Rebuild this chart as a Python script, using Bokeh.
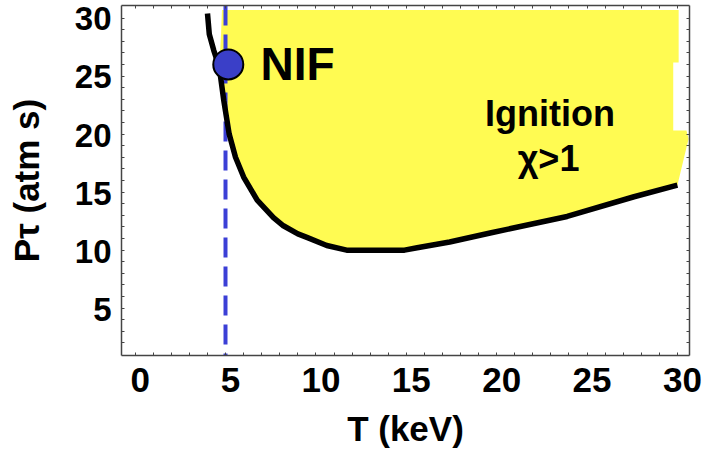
from bokeh.plotting import figure
from bokeh.models import Range1d, LinearAxis, FixedTicker
from bokeh.core.properties import value
from bokeh.embed import file_html
from bokeh.resources import INLINE

# Ignition threshold curve: temperature (keV) vs P*tau (atm s)
curve_T = [4.0, 4.1, 4.35, 4.65, 4.9, 5.2, 5.55, 6.0, 6.75, 7.65, 8.2, 9.0, 9.5,
           10.6, 11.7, 14.9, 15.6, 17.4, 19.7, 23.9, 27.6, 30.0]
curve_P = [29.4, 27.6, 26.2, 24.8, 21.9, 19.0, 17.0, 15.3, 13.3, 11.8, 11.1, 10.4, 10.1,
           9.4, 9.0, 9.0, 9.2, 9.7, 10.5, 11.9, 13.6, 14.6]

# Right and top edges of the shaded ignition region (continues from the curve's end)
region_T = [30.62, 30.5, 29.77, 29.77, 30.07, 30.07, 4.8, 4.75]
region_P = [18.6, 19.3, 19.3, 25.17, 25.17, 29.69, 29.69, 27.6]

# NIF operating point and its temperature line
nif_T = 5.15
nif_P = 25.0
nif_line_T = 5.0

x_ticks = [0, 5, 10, 15, 20, 25, 30]
y_ticks = [5, 10, 15, 20, 25, 30]
# small tick marks every 1 unit along the frame
x_minor = list(range(0, 31))
y_minor = list(range(1, 30))

FONT = "Liberation Sans"

p = figure(width=706, height=459,
           x_range=Range1d(-0.758, 30.67), y_range=Range1d(-0.08, 30.08),
           output_backend="svg", toolbar_location=None,
           min_border_left=121, min_border_right=17,
           min_border_top=5, min_border_bottom=104)
p.xgrid.visible = False
p.ygrid.visible = False
p.outline_line_color = None
p.background_fill_color = "white"
p.border_fill_color = "white"

# tick labels sit on slightly offset ranges
p.extra_x_ranges = {"xlab": Range1d(-1.035, 30.39)}
p.extra_y_ranges = {"ylab": Range1d(1.0, 31.16)}

AXIS_COLOR = "#444444"


def tick_axis(ax, minor_ticks, tick_len):
    ax.ticker = FixedTicker(ticks=[], minor_ticks=minor_ticks)
    ax.axis_line_color = AXIS_COLOR
    ax.axis_line_width = 1.5
    ax.minor_tick_line_color = AXIS_COLOR
    ax.minor_tick_in = tick_len
    ax.minor_tick_out = 0
    ax.major_tick_out = 0
    ax.major_tick_in = 0
    ax.major_label_standoff = 0
    ax.axis_label = None


tick_axis(p.xaxis[0], x_minor, 3)
tick_axis(p.yaxis[0], y_minor, 3)

top_ax = LinearAxis()
tick_axis(top_ax, x_minor, 3)
p.add_layout(top_ax, "above")
right_ax = LinearAxis()
tick_axis(right_ax, y_minor, 3)
p.add_layout(right_ax, "right")


def label_axis(ax, size, standoff):
    ax.axis_line_color = None
    ax.major_tick_line_color = None
    ax.minor_tick_line_color = None
    ax.major_tick_out = 0
    ax.major_tick_in = 0
    ax.minor_tick_out = 0
    ax.minor_tick_in = 0
    ax.major_label_text_font = FONT
    ax.major_label_text_font_style = "bold"
    ax.major_label_text_font_size = size
    ax.major_label_text_color = "black"
    ax.major_label_standoff = standoff
    ax.axis_label_text_font = FONT
    ax.axis_label_text_font_style = "bold"
    ax.axis_label_text_font_size = "35px"
    ax.axis_label_text_color = "black"


xlab = LinearAxis(x_range_name="xlab", ticker=FixedTicker(ticks=x_ticks),
                  axis_label="T (keV)")
label_axis(xlab, "35px", 12)
xlab.axis_label_standoff = 14
p.add_layout(xlab, "below")

ylab = LinearAxis(y_range_name="ylab", ticker=FixedTicker(ticks=y_ticks),
                  axis_label="Pτ (atm s)")
label_axis(ylab, "33px", 10)
ylab.axis_label_standoff = 26
p.add_layout(ylab, "left")

# shaded ignition region
patch_T = curve_T[3:] + region_T
patch_P = curve_P[3:] + region_P
p.patch(patch_T, patch_P, fill_color="#fffb52", line_color=None)

# dashed NIF temperature line
p.vspan(x=[nif_line_T], line_color="#3b3fd6", line_width=4, line_dash="20 9")

# threshold curve
p.line(curve_T, curve_P, line_color="black", line_width=5.5, line_join="round")

# NIF point
p.scatter([nif_T], [nif_P], size=30, fill_color="#3a3fc8", line_color="black", line_width=2)

p.text([6.93], [25.08], text=["NIF"], text_font=value(FONT), text_font_style="bold",
       text_font_size="46px", text_color="black", text_align="left",
       text_baseline="alphabetic")
p.text([22.95], [20.75], text=["Ignition"], text_font=value(FONT), text_font_style="bold",
       text_font_size="36px", text_color="black", text_align="center",
       text_baseline="alphabetic")
p.text([22.87], [16.87], text=["χ>1"], text_font=value(FONT), text_font_style="bold",
       text_font_size="36px", text_color="black", text_align="center",
       text_baseline="alphabetic")

open("out.html", "w").write(file_html(p, INLINE))
